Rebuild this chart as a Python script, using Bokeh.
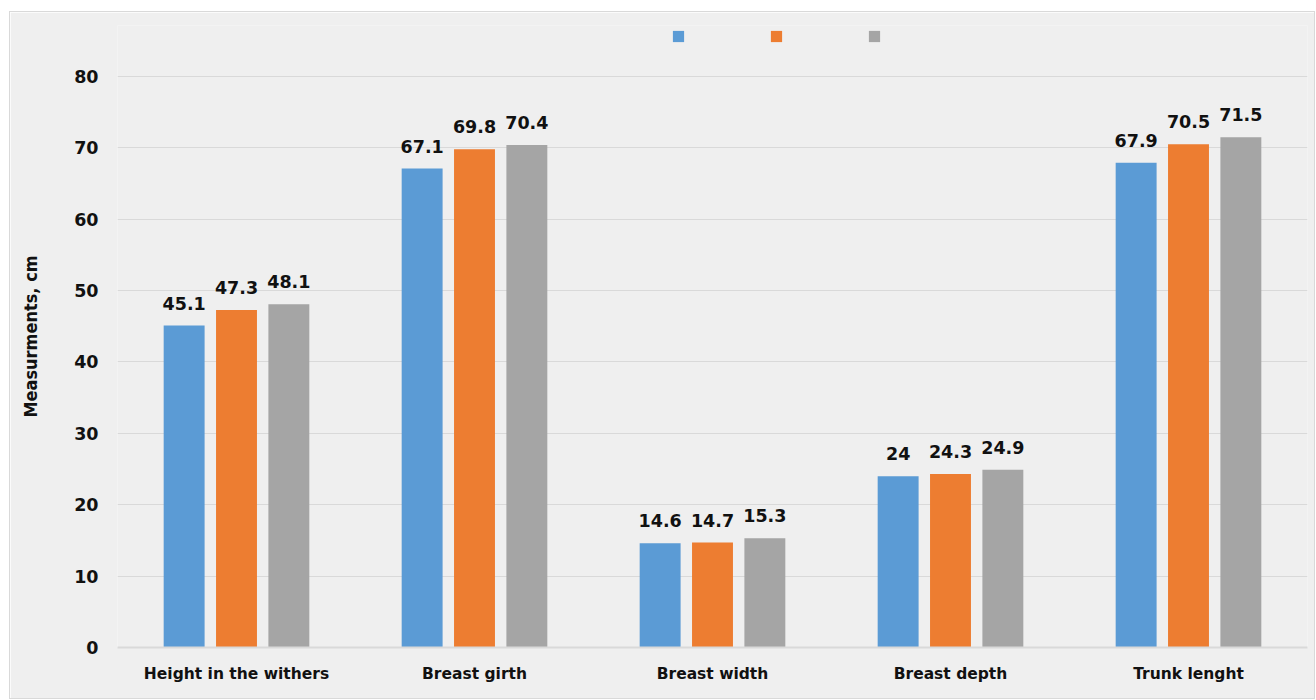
from bokeh.plotting import figure
from bokeh.models import (ColumnDataSource, FactorRange, Range1d, Legend, LegendItem,
                          LabelSet, Spacer, FixedTicker)
from bokeh.layouts import column, row
from bokeh.transform import dodge
from bokeh.core.properties import value
from bokeh.embed import file_html
from bokeh.resources import INLINE

categories = ["Height in the withers", "Breast girth", "Breast width", "Breast depth", "Trunk lenght"]
series_1 = [45.1, 67.1, 14.6, 24.0, 67.9]
series_2 = [47.3, 69.8, 14.7, 24.3, 70.5]
series_3 = [48.1, 70.4, 15.3, 24.9, 71.5]
labels_1 = ["45.1", "67.1", "14.6", "24", "67.9"]
labels_2 = ["47.3", "69.8", "14.7", "24.3", "70.5"]
labels_3 = ["48.1", "70.4", "15.3", "24.9", "71.5"]
y_ticks = [0, 10, 20, 30, 40, 50, 60, 70, 80]
colors = ["#5b9bd5", "#ed7d31", "#a5a5a5"]

BG = "#efefef"
GRID = "#d9d9d9"

src = ColumnDataSource(dict(cat=categories, s1=series_1, s2=series_2, s3=series_3,
                            l1=labels_1, l2=labels_2, l3=labels_3))

# frame extends above the 80 gridline to host the legend
p = figure(x_range=FactorRange(*categories, range_padding=0), y_range=Range1d(0, 87.145),
           width=1306, height=688, output_backend="svg", toolbar_location=None,
           min_border_left=107, min_border_right=9, min_border_top=13, min_border_bottom=53,
           background_fill_color=BG, border_fill_color=BG,
           styles={"border": "1px solid #d9d9d9"})
p.outline_line_color = None

offsets = [-0.22, 0.0, 0.22]
fields = ["s1", "s2", "s3"]
lfields = ["l1", "l2", "l3"]
renderers = []
for off, f, lf, c in zip(offsets, fields, lfields, colors):
    r = p.vbar(x=dodge("cat", off, range=p.x_range), top=f, width=0.172, bottom=0,
               source=src, fill_color=c, line_color=None)
    renderers.append(r)
    ls = LabelSet(x=dodge("cat", off, range=p.x_range), y=f, text=lf, source=src,
                  text_align="center", text_baseline="alphabetic", y_offset=16,
                  text_font=value("DejaVu Sans"), text_font_style="bold",
                  text_font_size="17.5px", text_color="#111111")
    p.add_layout(ls)

legend = Legend(items=[LegendItem(label=value(" "), renderers=[r]) for r in renderers],
                orientation="horizontal", location=(553.6, 603.6),
                glyph_width=14, glyph_height=14, label_standoff=0, label_width=0,
                label_height=14, label_text_font_size="8px", spacing=84,
                padding=0, margin=0, border_line_color=None, background_fill_alpha=0)
p.add_layout(legend, "center")

p.xgrid.grid_line_color = None
p.ygrid.grid_line_color = GRID
p.ygrid.ticker = FixedTicker(ticks=y_ticks)

p.xaxis.axis_line_color = GRID
p.xaxis.axis_line_width = 2
p.xaxis.major_tick_line_color = None
p.xaxis.minor_tick_line_color = None
p.xaxis.major_label_standoff = 11
p.xaxis.major_label_text_font = "DejaVu Sans"
p.xaxis.major_label_text_font_style = "bold"
p.xaxis.major_label_text_font_size = "15.5px"
p.xaxis.major_label_text_color = "#111111"

p.yaxis.ticker = FixedTicker(ticks=y_ticks)
p.yaxis.axis_line_color = None
p.yaxis.major_tick_line_color = None
p.yaxis.minor_tick_line_color = None
p.yaxis.major_label_standoff = 13
p.yaxis.major_label_text_font = "DejaVu Sans"
p.yaxis.major_label_text_font_style = "bold"
p.yaxis.major_label_text_font_size = "17.5px"
p.yaxis.major_label_text_color = "#111111"
p.yaxis.axis_label = "Measurments, cm"
p.yaxis.axis_label_text_font = "DejaVu Sans Condensed"
p.yaxis.axis_label_text_font_style = "bold"
p.yaxis.axis_label_text_font_size = "18px"
p.yaxis.axis_label_text_color = "#111111"
p.yaxis.axis_label_standoff = 30

layout = column(Spacer(height=11), row(Spacer(width=9), p))
open("out.html", "w").write(file_html(layout, INLINE))
